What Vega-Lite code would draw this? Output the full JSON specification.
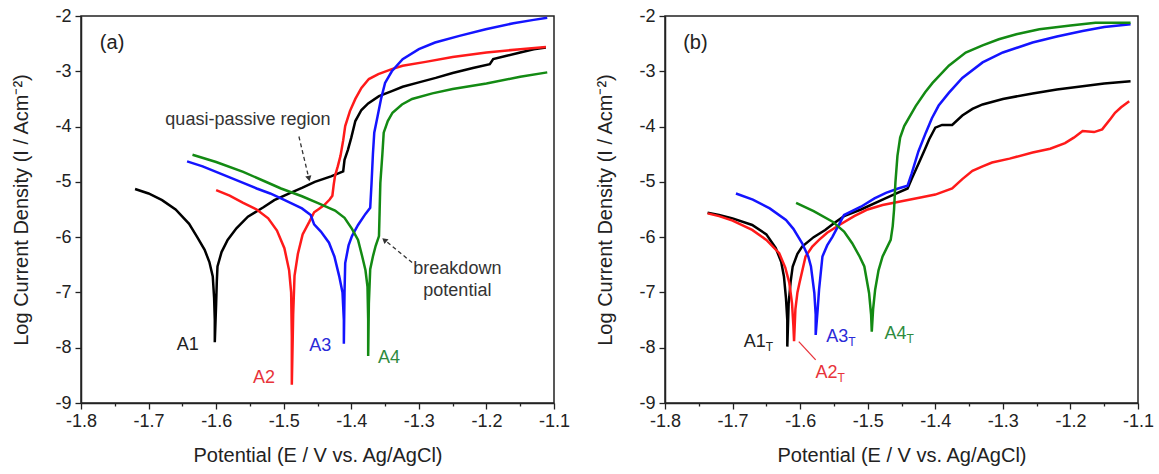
{
"$schema": "https://vega.github.io/schema/vega-lite/v6.json",
"padding": {"left": 11, "top": 6, "right": 5, "bottom": 5},
"bounds": "flush",
"spacing": 111,
"config": {
  "font": "Liberation Sans",
  "view": {"stroke": "#222", "strokeWidth": 1.5},
  "axis": {"domainColor": "#222", "domainWidth": 1.5, "tickColor": "#222", "tickWidth": 1.3, "labelFontSize": 18, "labelColor": "#222", "titleFontSize": 20, "titleFontWeight": "normal", "titleColor": "#222", "grid": false, "labelFont": "Liberation Sans", "titleFont": "Liberation Sans"}
},
"datasets": {
"curves": [
{"p":"a","s":"A1","i":1,"x":-1.72,"y":-5.13},{"p":"a","s":"A1","i":2,"x":-1.70,"y":-5.21},{"p":"a","s":"A1","i":3,"x":-1.68,"y":-5.33},{"p":"a","s":"A1","i":4,"x":-1.66,"y":-5.50},{"p":"a","s":"A1","i":5,"x":-1.64,"y":-5.76},{"p":"a","s":"A1","i":6,"x":-1.628,"y":-6.0},{"p":"a","s":"A1","i":7,"x":-1.617,"y":-6.23},{"p":"a","s":"A1","i":8,"x":-1.610,"y":-6.45},{"p":"a","s":"A1","i":9,"x":-1.605,"y":-6.71},{"p":"a","s":"A1","i":10,"x":-1.603,"y":-7.1},{"p":"a","s":"A1","i":11,"x":-1.602,"y":-7.5},{"p":"a","s":"A1","i":12,"x":-1.602,"y":-7.9},{"p":"a","s":"A1","i":13,"x":-1.600,"y":-7.2},{"p":"a","s":"A1","i":14,"x":-1.599,"y":-6.8},{"p":"a","s":"A1","i":15,"x":-1.598,"y":-6.53},{"p":"a","s":"A1","i":16,"x":-1.592,"y":-6.27},{"p":"a","s":"A1","i":17,"x":-1.583,"y":-6.05},{"p":"a","s":"A1","i":18,"x":-1.57,"y":-5.84},{"p":"a","s":"A1","i":19,"x":-1.553,"y":-5.63},{"p":"a","s":"A1","i":20,"x":-1.53,"y":-5.46},{"p":"a","s":"A1","i":21,"x":-1.514,"y":-5.33},{"p":"a","s":"A1","i":22,"x":-1.49,"y":-5.2},{"p":"a","s":"A1","i":23,"x":-1.473,"y":-5.11},{"p":"a","s":"A1","i":24,"x":-1.454,"y":-5.0},{"p":"a","s":"A1","i":25,"x":-1.43,"y":-4.9},{"p":"a","s":"A1","i":26,"x":-1.412,"y":-4.81},{"p":"a","s":"A1","i":27,"x":-1.410,"y":-4.6},{"p":"a","s":"A1","i":28,"x":-1.405,"y":-4.42},{"p":"a","s":"A1","i":29,"x":-1.400,"y":-4.2},{"p":"a","s":"A1","i":30,"x":-1.394,"y":-3.9},{"p":"a","s":"A1","i":31,"x":-1.385,"y":-3.7},{"p":"a","s":"A1","i":32,"x":-1.375,"y":-3.58},{"p":"a","s":"A1","i":33,"x":-1.359,"y":-3.45},{"p":"a","s":"A1","i":34,"x":-1.34,"y":-3.36},{"p":"a","s":"A1","i":35,"x":-1.324,"y":-3.28},{"p":"a","s":"A1","i":36,"x":-1.30,"y":-3.2},{"p":"a","s":"A1","i":37,"x":-1.275,"y":-3.12},{"p":"a","s":"A1","i":38,"x":-1.25,"y":-3.03},{"p":"a","s":"A1","i":39,"x":-1.22,"y":-2.94},{"p":"a","s":"A1","i":40,"x":-1.195,"y":-2.87},{"p":"a","s":"A1","i":41,"x":-1.19,"y":-2.78},{"p":"a","s":"A1","i":42,"x":-1.17,"y":-2.72},{"p":"a","s":"A1","i":43,"x":-1.15,"y":-2.66},{"p":"a","s":"A1","i":44,"x":-1.13,"y":-2.6},{"p":"a","s":"A1","i":45,"x":-1.112,"y":-2.57},
{"p":"a","s":"A2","i":1,"x":-1.60,"y":-5.15},{"p":"a","s":"A2","i":2,"x":-1.58,"y":-5.25},{"p":"a","s":"A2","i":3,"x":-1.56,"y":-5.38},{"p":"a","s":"A2","i":4,"x":-1.54,"y":-5.5},{"p":"a","s":"A2","i":5,"x":-1.523,"y":-5.66},{"p":"a","s":"A2","i":6,"x":-1.51,"y":-5.88},{"p":"a","s":"A2","i":7,"x":-1.499,"y":-6.2},{"p":"a","s":"A2","i":8,"x":-1.492,"y":-6.6},{"p":"a","s":"A2","i":9,"x":-1.489,"y":-7.0},{"p":"a","s":"A2","i":10,"x":-1.488,"y":-7.8},{"p":"a","s":"A2","i":11,"x":-1.488,"y":-8.67},{"p":"a","s":"A2","i":12,"x":-1.486,"y":-7.4},{"p":"a","s":"A2","i":13,"x":-1.484,"y":-6.7},{"p":"a","s":"A2","i":14,"x":-1.479,"y":-6.3},{"p":"a","s":"A2","i":15,"x":-1.472,"y":-5.95},{"p":"a","s":"A2","i":16,"x":-1.462,"y":-5.72},{"p":"a","s":"A2","i":17,"x":-1.455,"y":-5.55},{"p":"a","s":"A2","i":18,"x":-1.448,"y":-5.49},{"p":"a","s":"A2","i":19,"x":-1.44,"y":-5.42},{"p":"a","s":"A2","i":20,"x":-1.432,"y":-5.32},{"p":"a","s":"A2","i":21,"x":-1.428,"y":-5.25},{"p":"a","s":"A2","i":22,"x":-1.426,"y":-5.05},{"p":"a","s":"A2","i":23,"x":-1.424,"y":-4.89},{"p":"a","s":"A2","i":24,"x":-1.42,"y":-4.72},{"p":"a","s":"A2","i":25,"x":-1.416,"y":-4.53},{"p":"a","s":"A2","i":26,"x":-1.412,"y":-4.25},{"p":"a","s":"A2","i":27,"x":-1.409,"y":-3.99},{"p":"a","s":"A2","i":28,"x":-1.402,"y":-3.72},{"p":"a","s":"A2","i":29,"x":-1.394,"y":-3.5},{"p":"a","s":"A2","i":30,"x":-1.385,"y":-3.3},{"p":"a","s":"A2","i":31,"x":-1.374,"y":-3.14},{"p":"a","s":"A2","i":32,"x":-1.36,"y":-3.05},{"p":"a","s":"A2","i":33,"x":-1.34,"y":-2.96},{"p":"a","s":"A2","i":34,"x":-1.324,"y":-2.90},{"p":"a","s":"A2","i":35,"x":-1.29,"y":-2.83},{"p":"a","s":"A2","i":36,"x":-1.25,"y":-2.74},{"p":"a","s":"A2","i":37,"x":-1.2,"y":-2.66},{"p":"a","s":"A2","i":38,"x":-1.15,"y":-2.6},{"p":"a","s":"A2","i":39,"x":-1.112,"y":-2.56},
{"p":"a","s":"A3","i":1,"x":-1.643,"y":-4.63},{"p":"a","s":"A3","i":2,"x":-1.62,"y":-4.72},{"p":"a","s":"A3","i":3,"x":-1.60,"y":-4.82},{"p":"a","s":"A3","i":4,"x":-1.58,"y":-4.92},{"p":"a","s":"A3","i":5,"x":-1.56,"y":-5.02},{"p":"a","s":"A3","i":6,"x":-1.54,"y":-5.12},{"p":"a","s":"A3","i":7,"x":-1.52,"y":-5.21},{"p":"a","s":"A3","i":8,"x":-1.504,"y":-5.3},{"p":"a","s":"A3","i":9,"x":-1.49,"y":-5.38},{"p":"a","s":"A3","i":10,"x":-1.473,"y":-5.48},{"p":"a","s":"A3","i":11,"x":-1.46,"y":-5.6},{"p":"a","s":"A3","i":12,"x":-1.455,"y":-5.77},{"p":"a","s":"A3","i":13,"x":-1.445,"y":-5.9},{"p":"a","s":"A3","i":14,"x":-1.433,"y":-6.10},{"p":"a","s":"A3","i":15,"x":-1.425,"y":-6.35},{"p":"a","s":"A3","i":16,"x":-1.418,"y":-6.70},{"p":"a","s":"A3","i":17,"x":-1.413,"y":-7.0},{"p":"a","s":"A3","i":18,"x":-1.411,"y":-7.5},{"p":"a","s":"A3","i":19,"x":-1.411,"y":-7.93},{"p":"a","s":"A3","i":20,"x":-1.410,"y":-7.0},{"p":"a","s":"A3","i":21,"x":-1.409,"y":-6.47},{"p":"a","s":"A3","i":22,"x":-1.404,"y":-6.15},{"p":"a","s":"A3","i":23,"x":-1.399,"y":-5.98},{"p":"a","s":"A3","i":24,"x":-1.39,"y":-5.78},{"p":"a","s":"A3","i":25,"x":-1.379,"y":-5.58},{"p":"a","s":"A3","i":26,"x":-1.372,"y":-5.47},{"p":"a","s":"A3","i":27,"x":-1.370,"y":-5.02},{"p":"a","s":"A3","i":28,"x":-1.368,"y":-4.5},{"p":"a","s":"A3","i":29,"x":-1.366,"y":-4.11},{"p":"a","s":"A3","i":30,"x":-1.361,"y":-3.81},{"p":"a","s":"A3","i":31,"x":-1.356,"y":-3.5},{"p":"a","s":"A3","i":32,"x":-1.35,"y":-3.21},{"p":"a","s":"A3","i":33,"x":-1.34,"y":-3.0},{"p":"a","s":"A3","i":34,"x":-1.324,"y":-2.78},{"p":"a","s":"A3","i":35,"x":-1.30,"y":-2.6},{"p":"a","s":"A3","i":36,"x":-1.276,"y":-2.48},{"p":"a","s":"A3","i":37,"x":-1.24,"y":-2.36},{"p":"a","s":"A3","i":38,"x":-1.201,"y":-2.24},{"p":"a","s":"A3","i":39,"x":-1.16,"y":-2.13},{"p":"a","s":"A3","i":40,"x":-1.13,"y":-2.07},{"p":"a","s":"A3","i":41,"x":-1.11,"y":-2.03},
{"p":"a","s":"A4","i":1,"x":-1.635,"y":-4.51},{"p":"a","s":"A4","i":2,"x":-1.60,"y":-4.64},{"p":"a","s":"A4","i":3,"x":-1.56,"y":-4.82},{"p":"a","s":"A4","i":4,"x":-1.53,"y":-4.98},{"p":"a","s":"A4","i":5,"x":-1.504,"y":-5.12},{"p":"a","s":"A4","i":6,"x":-1.473,"y":-5.26},{"p":"a","s":"A4","i":7,"x":-1.45,"y":-5.38},{"p":"a","s":"A4","i":8,"x":-1.424,"y":-5.52},{"p":"a","s":"A4","i":9,"x":-1.41,"y":-5.65},{"p":"a","s":"A4","i":10,"x":-1.399,"y":-5.85},{"p":"a","s":"A4","i":11,"x":-1.39,"y":-6.05},{"p":"a","s":"A4","i":12,"x":-1.384,"y":-6.34},{"p":"a","s":"A4","i":13,"x":-1.379,"y":-6.6},{"p":"a","s":"A4","i":14,"x":-1.376,"y":-6.9},{"p":"a","s":"A4","i":15,"x":-1.375,"y":-7.5},{"p":"a","s":"A4","i":16,"x":-1.375,"y":-8.15},{"p":"a","s":"A4","i":17,"x":-1.374,"y":-7.2},{"p":"a","s":"A4","i":18,"x":-1.372,"y":-6.58},{"p":"a","s":"A4","i":19,"x":-1.368,"y":-6.35},{"p":"a","s":"A4","i":20,"x":-1.364,"y":-6.16},{"p":"a","s":"A4","i":21,"x":-1.359,"y":-5.98},{"p":"a","s":"A4","i":22,"x":-1.358,"y":-5.5},{"p":"a","s":"A4","i":23,"x":-1.357,"y":-5.02},{"p":"a","s":"A4","i":24,"x":-1.354,"y":-4.5},{"p":"a","s":"A4","i":25,"x":-1.352,"y":-4.11},{"p":"a","s":"A4","i":26,"x":-1.346,"y":-3.9},{"p":"a","s":"A4","i":27,"x":-1.339,"y":-3.75},{"p":"a","s":"A4","i":28,"x":-1.325,"y":-3.6},{"p":"a","s":"A4","i":29,"x":-1.31,"y":-3.50},{"p":"a","s":"A4","i":30,"x":-1.28,"y":-3.4},{"p":"a","s":"A4","i":31,"x":-1.25,"y":-3.32},{"p":"a","s":"A4","i":32,"x":-1.2,"y":-3.22},{"p":"a","s":"A4","i":33,"x":-1.15,"y":-3.1},{"p":"a","s":"A4","i":34,"x":-1.11,"y":-3.02},
{"p":"b","s":"A1","i":1,"x":-1.737,"y":-5.56},{"p":"b","s":"A1","i":2,"x":-1.72,"y":-5.6},{"p":"b","s":"A1","i":3,"x":-1.70,"y":-5.66},{"p":"b","s":"A1","i":4,"x":-1.671,"y":-5.78},{"p":"b","s":"A1","i":5,"x":-1.65,"y":-5.95},{"p":"b","s":"A1","i":6,"x":-1.636,"y":-6.2},{"p":"b","s":"A1","i":7,"x":-1.628,"y":-6.45},{"p":"b","s":"A1","i":8,"x":-1.624,"y":-6.71},{"p":"b","s":"A1","i":9,"x":-1.621,"y":-7.1},{"p":"b","s":"A1","i":10,"x":-1.619,"y":-7.5},{"p":"b","s":"A1","i":11,"x":-1.619,"y":-7.98},{"p":"b","s":"A1","i":12,"x":-1.617,"y":-7.2},{"p":"b","s":"A1","i":13,"x":-1.614,"y":-6.8},{"p":"b","s":"A1","i":14,"x":-1.611,"y":-6.53},{"p":"b","s":"A1","i":15,"x":-1.604,"y":-6.3},{"p":"b","s":"A1","i":16,"x":-1.597,"y":-6.17},{"p":"b","s":"A1","i":17,"x":-1.58,"y":-6.0},{"p":"b","s":"A1","i":18,"x":-1.563,"y":-5.87},{"p":"b","s":"A1","i":19,"x":-1.55,"y":-5.75},{"p":"b","s":"A1","i":20,"x":-1.535,"y":-5.62},{"p":"b","s":"A1","i":21,"x":-1.51,"y":-5.5},{"p":"b","s":"A1","i":22,"x":-1.478,"y":-5.32},{"p":"b","s":"A1","i":23,"x":-1.46,"y":-5.22},{"p":"b","s":"A1","i":24,"x":-1.441,"y":-5.12},{"p":"b","s":"A1","i":25,"x":-1.435,"y":-4.95},{"p":"b","s":"A1","i":26,"x":-1.424,"y":-4.65},{"p":"b","s":"A1","i":27,"x":-1.415,"y":-4.4},{"p":"b","s":"A1","i":28,"x":-1.409,"y":-4.23},{"p":"b","s":"A1","i":29,"x":-1.400,"y":-4.02},{"p":"b","s":"A1","i":30,"x":-1.39,"y":-3.97},{"p":"b","s":"A1","i":31,"x":-1.375,"y":-3.97},{"p":"b","s":"A1","i":32,"x":-1.36,"y":-3.8},{"p":"b","s":"A1","i":33,"x":-1.345,"y":-3.68},{"p":"b","s":"A1","i":34,"x":-1.33,"y":-3.6},{"p":"b","s":"A1","i":35,"x":-1.3,"y":-3.5},{"p":"b","s":"A1","i":36,"x":-1.256,"y":-3.4},{"p":"b","s":"A1","i":37,"x":-1.22,"y":-3.33},{"p":"b","s":"A1","i":38,"x":-1.182,"y":-3.27},{"p":"b","s":"A1","i":39,"x":-1.15,"y":-3.22},{"p":"b","s":"A1","i":40,"x":-1.111,"y":-3.18},
{"p":"b","s":"A2","i":1,"x":-1.737,"y":-5.57},{"p":"b","s":"A2","i":2,"x":-1.72,"y":-5.62},{"p":"b","s":"A2","i":3,"x":-1.70,"y":-5.7},{"p":"b","s":"A2","i":4,"x":-1.671,"y":-5.87},{"p":"b","s":"A2","i":5,"x":-1.65,"y":-6.05},{"p":"b","s":"A2","i":6,"x":-1.631,"y":-6.29},{"p":"b","s":"A2","i":7,"x":-1.622,"y":-6.55},{"p":"b","s":"A2","i":8,"x":-1.616,"y":-6.83},{"p":"b","s":"A2","i":9,"x":-1.612,"y":-7.2},{"p":"b","s":"A2","i":10,"x":-1.610,"y":-7.6},{"p":"b","s":"A2","i":11,"x":-1.609,"y":-7.88},{"p":"b","s":"A2","i":12,"x":-1.607,"y":-7.3},{"p":"b","s":"A2","i":13,"x":-1.604,"y":-7.0},{"p":"b","s":"A2","i":14,"x":-1.601,"y":-6.83},{"p":"b","s":"A2","i":15,"x":-1.592,"y":-6.35},{"p":"b","s":"A2","i":16,"x":-1.582,"y":-6.17},{"p":"b","s":"A2","i":17,"x":-1.572,"y":-6.05},{"p":"b","s":"A2","i":18,"x":-1.56,"y":-5.92},{"p":"b","s":"A2","i":19,"x":-1.542,"y":-5.78},{"p":"b","s":"A2","i":20,"x":-1.52,"y":-5.62},{"p":"b","s":"A2","i":21,"x":-1.5,"y":-5.5},{"p":"b","s":"A2","i":22,"x":-1.478,"y":-5.42},{"p":"b","s":"A2","i":23,"x":-1.45,"y":-5.35},{"p":"b","s":"A2","i":24,"x":-1.42,"y":-5.28},{"p":"b","s":"A2","i":25,"x":-1.4,"y":-5.23},{"p":"b","s":"A2","i":26,"x":-1.375,"y":-5.12},{"p":"b","s":"A2","i":27,"x":-1.36,"y":-4.95},{"p":"b","s":"A2","i":28,"x":-1.345,"y":-4.8},{"p":"b","s":"A2","i":29,"x":-1.33,"y":-4.72},{"p":"b","s":"A2","i":30,"x":-1.316,"y":-4.65},{"p":"b","s":"A2","i":31,"x":-1.29,"y":-4.58},{"p":"b","s":"A2","i":32,"x":-1.256,"y":-4.47},{"p":"b","s":"A2","i":33,"x":-1.23,"y":-4.4},{"p":"b","s":"A2","i":34,"x":-1.208,"y":-4.3},{"p":"b","s":"A2","i":35,"x":-1.195,"y":-4.2},{"p":"b","s":"A2","i":36,"x":-1.182,"y":-4.08},{"p":"b","s":"A2","i":37,"x":-1.165,"y":-4.1},{"p":"b","s":"A2","i":38,"x":-1.153,"y":-4.05},{"p":"b","s":"A2","i":39,"x":-1.14,"y":-3.85},{"p":"b","s":"A2","i":40,"x":-1.134,"y":-3.75},{"p":"b","s":"A2","i":41,"x":-1.125,"y":-3.65},{"p":"b","s":"A2","i":42,"x":-1.113,"y":-3.54},
{"p":"b","s":"A3","i":1,"x":-1.695,"y":-5.21},{"p":"b","s":"A3","i":2,"x":-1.67,"y":-5.32},{"p":"b","s":"A3","i":3,"x":-1.645,"y":-5.48},{"p":"b","s":"A3","i":4,"x":-1.621,"y":-5.69},{"p":"b","s":"A3","i":5,"x":-1.61,"y":-5.85},{"p":"b","s":"A3","i":6,"x":-1.597,"y":-6.11},{"p":"b","s":"A3","i":7,"x":-1.588,"y":-6.35},{"p":"b","s":"A3","i":8,"x":-1.584,"y":-6.53},{"p":"b","s":"A3","i":9,"x":-1.579,"y":-7.01},{"p":"b","s":"A3","i":10,"x":-1.577,"y":-7.4},{"p":"b","s":"A3","i":11,"x":-1.577,"y":-7.77},{"p":"b","s":"A3","i":12,"x":-1.574,"y":-7.3},{"p":"b","s":"A3","i":13,"x":-1.572,"y":-6.95},{"p":"b","s":"A3","i":14,"x":-1.567,"y":-6.35},{"p":"b","s":"A3","i":15,"x":-1.56,"y":-6.15},{"p":"b","s":"A3","i":16,"x":-1.552,"y":-5.99},{"p":"b","s":"A3","i":17,"x":-1.535,"y":-5.60},{"p":"b","s":"A3","i":18,"x":-1.51,"y":-5.45},{"p":"b","s":"A3","i":19,"x":-1.49,"y":-5.3},{"p":"b","s":"A3","i":20,"x":-1.473,"y":-5.2},{"p":"b","s":"A3","i":21,"x":-1.455,"y":-5.12},{"p":"b","s":"A3","i":22,"x":-1.441,"y":-5.07},{"p":"b","s":"A3","i":23,"x":-1.435,"y":-4.85},{"p":"b","s":"A3","i":24,"x":-1.425,"y":-4.45},{"p":"b","s":"A3","i":25,"x":-1.414,"y":-4.11},{"p":"b","s":"A3","i":26,"x":-1.405,"y":-3.85},{"p":"b","s":"A3","i":27,"x":-1.395,"y":-3.62},{"p":"b","s":"A3","i":28,"x":-1.38,"y":-3.39},{"p":"b","s":"A3","i":29,"x":-1.36,"y":-3.12},{"p":"b","s":"A3","i":30,"x":-1.33,"y":-2.84},{"p":"b","s":"A3","i":31,"x":-1.3,"y":-2.66},{"p":"b","s":"A3","i":32,"x":-1.256,"y":-2.48},{"p":"b","s":"A3","i":33,"x":-1.22,"y":-2.37},{"p":"b","s":"A3","i":34,"x":-1.182,"y":-2.27},{"p":"b","s":"A3","i":35,"x":-1.15,"y":-2.2},{"p":"b","s":"A3","i":36,"x":-1.111,"y":-2.15},
{"p":"b","s":"A4","i":1,"x":-1.606,"y":-5.38},{"p":"b","s":"A4","i":2,"x":-1.58,"y":-5.53},{"p":"b","s":"A4","i":3,"x":-1.552,"y":-5.72},{"p":"b","s":"A4","i":4,"x":-1.535,"y":-5.9},{"p":"b","s":"A4","i":5,"x":-1.523,"y":-6.11},{"p":"b","s":"A4","i":6,"x":-1.512,"y":-6.35},{"p":"b","s":"A4","i":7,"x":-1.505,"y":-6.53},{"p":"b","s":"A4","i":8,"x":-1.498,"y":-7.01},{"p":"b","s":"A4","i":9,"x":-1.495,"y":-7.4},{"p":"b","s":"A4","i":10,"x":-1.494,"y":-7.71},{"p":"b","s":"A4","i":11,"x":-1.492,"y":-7.3},{"p":"b","s":"A4","i":12,"x":-1.489,"y":-6.95},{"p":"b","s":"A4","i":13,"x":-1.484,"y":-6.6},{"p":"b","s":"A4","i":14,"x":-1.478,"y":-6.35},{"p":"b","s":"A4","i":15,"x":-1.466,"y":-6.05},{"p":"b","s":"A4","i":16,"x":-1.463,"y":-5.8},{"p":"b","s":"A4","i":17,"x":-1.461,"y":-5.5},{"p":"b","s":"A4","i":18,"x":-1.459,"y":-5.01},{"p":"b","s":"A4","i":19,"x":-1.456,"y":-4.53},{"p":"b","s":"A4","i":20,"x":-1.452,"y":-4.2},{"p":"b","s":"A4","i":21,"x":-1.446,"y":-3.99},{"p":"b","s":"A4","i":22,"x":-1.429,"y":-3.63},{"p":"b","s":"A4","i":23,"x":-1.415,"y":-3.38},{"p":"b","s":"A4","i":24,"x":-1.404,"y":-3.21},{"p":"b","s":"A4","i":25,"x":-1.38,"y":-2.9},{"p":"b","s":"A4","i":26,"x":-1.355,"y":-2.66},{"p":"b","s":"A4","i":27,"x":-1.33,"y":-2.53},{"p":"b","s":"A4","i":28,"x":-1.306,"y":-2.42},{"p":"b","s":"A4","i":29,"x":-1.28,"y":-2.33},{"p":"b","s":"A4","i":30,"x":-1.246,"y":-2.24},{"p":"b","s":"A4","i":31,"x":-1.2,"y":-2.17},{"p":"b","s":"A4","i":32,"x":-1.163,"y":-2.12},{"p":"b","s":"A4","i":33,"x":-1.111,"y":-2.12}
],
"labels": [
{"p":"a","s":"A1","t":"A1","sub":"","x":-1.642,"y":-7.95},
{"p":"a","s":"A2","t":"A2","sub":"","x":-1.529,"y":-8.55},
{"p":"a","s":"A3","t":"A3","sub":"","x":-1.446,"y":-7.97},
{"p":"a","s":"A4","t":"A4","sub":"","x":-1.344,"y":-8.18},
{"p":"b","s":"A1","t":"A1","sub":"T","x":-1.667,"y":-7.89},
{"p":"b","s":"A2","t":"A2","sub":"T","x":-1.561,"y":-8.45},
{"p":"b","s":"A3","t":"A3","sub":"T","x":-1.545,"y":-7.80},
{"p":"b","s":"A4","t":"A4","sub":"T","x":-1.459,"y":-7.76}
],
"tags": [
{"p":"a","t":"(a)","x":-1.754,"y":-2.49},
{"p":"b","t":"(b)","x":-1.755,"y":-2.49}
],
"notes": [
{"p":"a","t":"quasi-passive region","x":-1.553,"y":-3.89},
{"p":"a","t":"breakdown","x":-1.243,"y":-6.58},
{"p":"a","t":"potential","x":-1.243,"y":-6.97}
],
"arrows": [
{"p":"a","id":"q","x":-1.4775,"y":-4.18,"x2":-1.4635,"y2":-4.9},
{"p":"a","id":"b","x":-1.310,"y":-6.46,"x2":-1.347,"y2":-6.09},
{"p":"b","id":"r","x":-1.602,"y":-7.89,"x2":-1.577,"y2":-8.22}
],
"heads": [
{"id":"q","x":-1.4627,"y":-4.94},
{"id":"b","x":-1.351,"y":-6.05}
]
},
"hconcat": [
{
"width": 473, "height": 387,
"encoding": {
  "x": {"field": "x", "type": "quantitative", "scale": {"domain": [-1.8, -1.1], "nice": false, "zero": false},
        "axis": {"title": "Potential (E / V vs. Ag/AgCl)", "values": [-1.8,-1.75,-1.7,-1.65,-1.6,-1.55,-1.5,-1.45,-1.4,-1.35,-1.3,-1.25,-1.2,-1.15,-1.1],
                 "labelExpr": "abs(datum.value*10 - round(datum.value*10)) < 0.001 ? '-' + format(abs(datum.value), '.1f') : ''",
                 "tickSize": {"condition": {"test": "abs(datum.value*10 - round(datum.value*10)) < 0.001", "value": 6}, "value": 3},
                 "labelFlush": false, "labelOverlap": false, "labelPadding": 3, "titlePadding": 15}},
  "y": {"field": "y", "type": "quantitative", "scale": {"domain": [-9, -2], "nice": false, "zero": false},
        "axis": {"title": "Log Current Density (I / Acm⁻²)", "values": [-9,-8,-7,-6,-5,-4,-3,-2],
                 "labelExpr": "'-' + format(abs(datum.value), 'd')", "tickSize": 6, "labelPadding": 4, "titlePadding": 23, "labelFlush": false, "labelOverlap": false}}
},
"layer": [
  {"data": {"name": "curves"}, "transform": [{"filter": "datum.p == 'a'"}],
   "mark": {"type": "line", "strokeWidth": 2.5},
   "encoding": {"stroke": {"field": "s", "type": "nominal", "scale": {"domain": ["A1","A2","A3","A4"], "range": ["#000000","#ff1a1a","#1414ff","#138a13"]}, "legend": null},
                "order": {"field": "i", "type": "quantitative"}}},
  {"data": {"name": "labels"}, "transform": [{"filter": "datum.p == 'a'"}],
   "mark": {"type": "text", "fontSize": 18, "align": "center", "baseline": "middle"},
   "encoding": {"text": {"field": "t"}, "fill": {"field": "s", "type": "nominal", "scale": {"domain": ["A1","A2","A3","A4"], "range": ["#222222","#e8333a","#2a2ad8","#2e8b3e"]}, "legend": null}}},
  {"data": {"name": "tags"}, "transform": [{"filter": "datum.p == 'a'"}],
   "mark": {"type": "text", "fontSize": 20, "align": "center", "baseline": "middle", "fill": "#222"},
   "encoding": {"text": {"field": "t"}}},
  {"data": {"name": "notes"}, "transform": [{"filter": "datum.p == 'a'"}],
   "mark": {"type": "text", "fontSize": 18, "align": "center", "baseline": "middle", "fill": "#333"},
   "encoding": {"text": {"field": "t"}}},
  {"data": {"name": "arrows"}, "transform": [{"filter": "datum.p == 'a'"}],
   "mark": {"type": "rule", "strokeDash": [4, 3], "stroke": "#333", "strokeWidth": 1.3},
   "encoding": {"x2": {"field": "x2"}, "y2": {"field": "y2"}}},
  {"data": {"name": "heads"}, "transform": [{"filter": "datum.id == 'q'"}],
   "mark": {"type": "point", "shape": "triangle-up", "angle": 167, "filled": true, "fill": "#333", "size": 40, "opacity": 1}},
  {"data": {"name": "heads"}, "transform": [{"filter": "datum.id == 'b'"}],
   "mark": {"type": "point", "shape": "triangle-up", "angle": -50, "filled": true, "fill": "#333", "size": 40, "opacity": 1}}
]
},
{
"width": 473, "height": 387,
"encoding": {
  "x": {"field": "x", "type": "quantitative", "scale": {"domain": [-1.8, -1.1], "nice": false, "zero": false},
        "axis": {"title": "Potential (E / V vs. Ag/AgCl)", "values": [-1.8,-1.75,-1.7,-1.65,-1.6,-1.55,-1.5,-1.45,-1.4,-1.35,-1.3,-1.25,-1.2,-1.15,-1.1],
                 "labelExpr": "abs(datum.value*10 - round(datum.value*10)) < 0.001 ? '-' + format(abs(datum.value), '.1f') : ''",
                 "tickSize": {"condition": {"test": "abs(datum.value*10 - round(datum.value*10)) < 0.001", "value": 6}, "value": 3},
                 "labelFlush": false, "labelOverlap": false, "labelPadding": 3, "titlePadding": 15}},
  "y": {"field": "y", "type": "quantitative", "scale": {"domain": [-9, -2], "nice": false, "zero": false},
        "axis": {"title": "Log Current Density (I / Acm⁻²)", "values": [-9,-8,-7,-6,-5,-4,-3,-2],
                 "labelExpr": "'-' + format(abs(datum.value), 'd')", "tickSize": 6, "labelPadding": 4, "titlePadding": 23, "labelFlush": false, "labelOverlap": false}}
},
"layer": [
  {"data": {"name": "curves"}, "transform": [{"filter": "datum.p == 'b'"}],
   "mark": {"type": "line", "strokeWidth": 2.5},
   "encoding": {"stroke": {"field": "s", "type": "nominal", "scale": {"domain": ["A1","A2","A3","A4"], "range": ["#000000","#ff1a1a","#1414ff","#138a13"]}, "legend": null},
                "order": {"field": "i", "type": "quantitative"}}},
  {"data": {"name": "labels"}, "transform": [{"filter": "datum.p == 'b'"}],
   "mark": {"type": "text", "fontSize": 18, "align": "center", "baseline": "middle"},
   "encoding": {"text": {"field": "t"}, "fill": {"field": "s", "type": "nominal", "scale": {"domain": ["A1","A2","A3","A4"], "range": ["#222222","#e8333a","#2a2ad8","#2e8b3e"]}, "legend": null}}},
  {"data": {"name": "labels"}, "transform": [{"filter": "datum.p == 'b'"}],
   "mark": {"type": "text", "fontSize": 12, "align": "left", "baseline": "middle", "dx": 11, "dy": 5},
   "encoding": {"text": {"field": "sub"}, "fill": {"field": "s", "type": "nominal", "scale": {"domain": ["A1","A2","A3","A4"], "range": ["#222222","#e8333a","#2a2ad8","#2e8b3e"]}, "legend": null}}},
  {"data": {"name": "tags"}, "transform": [{"filter": "datum.p == 'b'"}],
   "mark": {"type": "text", "fontSize": 20, "align": "center", "baseline": "middle", "fill": "#222"},
   "encoding": {"text": {"field": "t"}}},
  {"data": {"name": "arrows"}, "transform": [{"filter": "datum.p == 'b'"}],
   "mark": {"type": "rule", "stroke": "#e8333a", "strokeWidth": 1.3},
   "encoding": {"x2": {"field": "x2"}, "y2": {"field": "y2"}}}
]
}
]
}
